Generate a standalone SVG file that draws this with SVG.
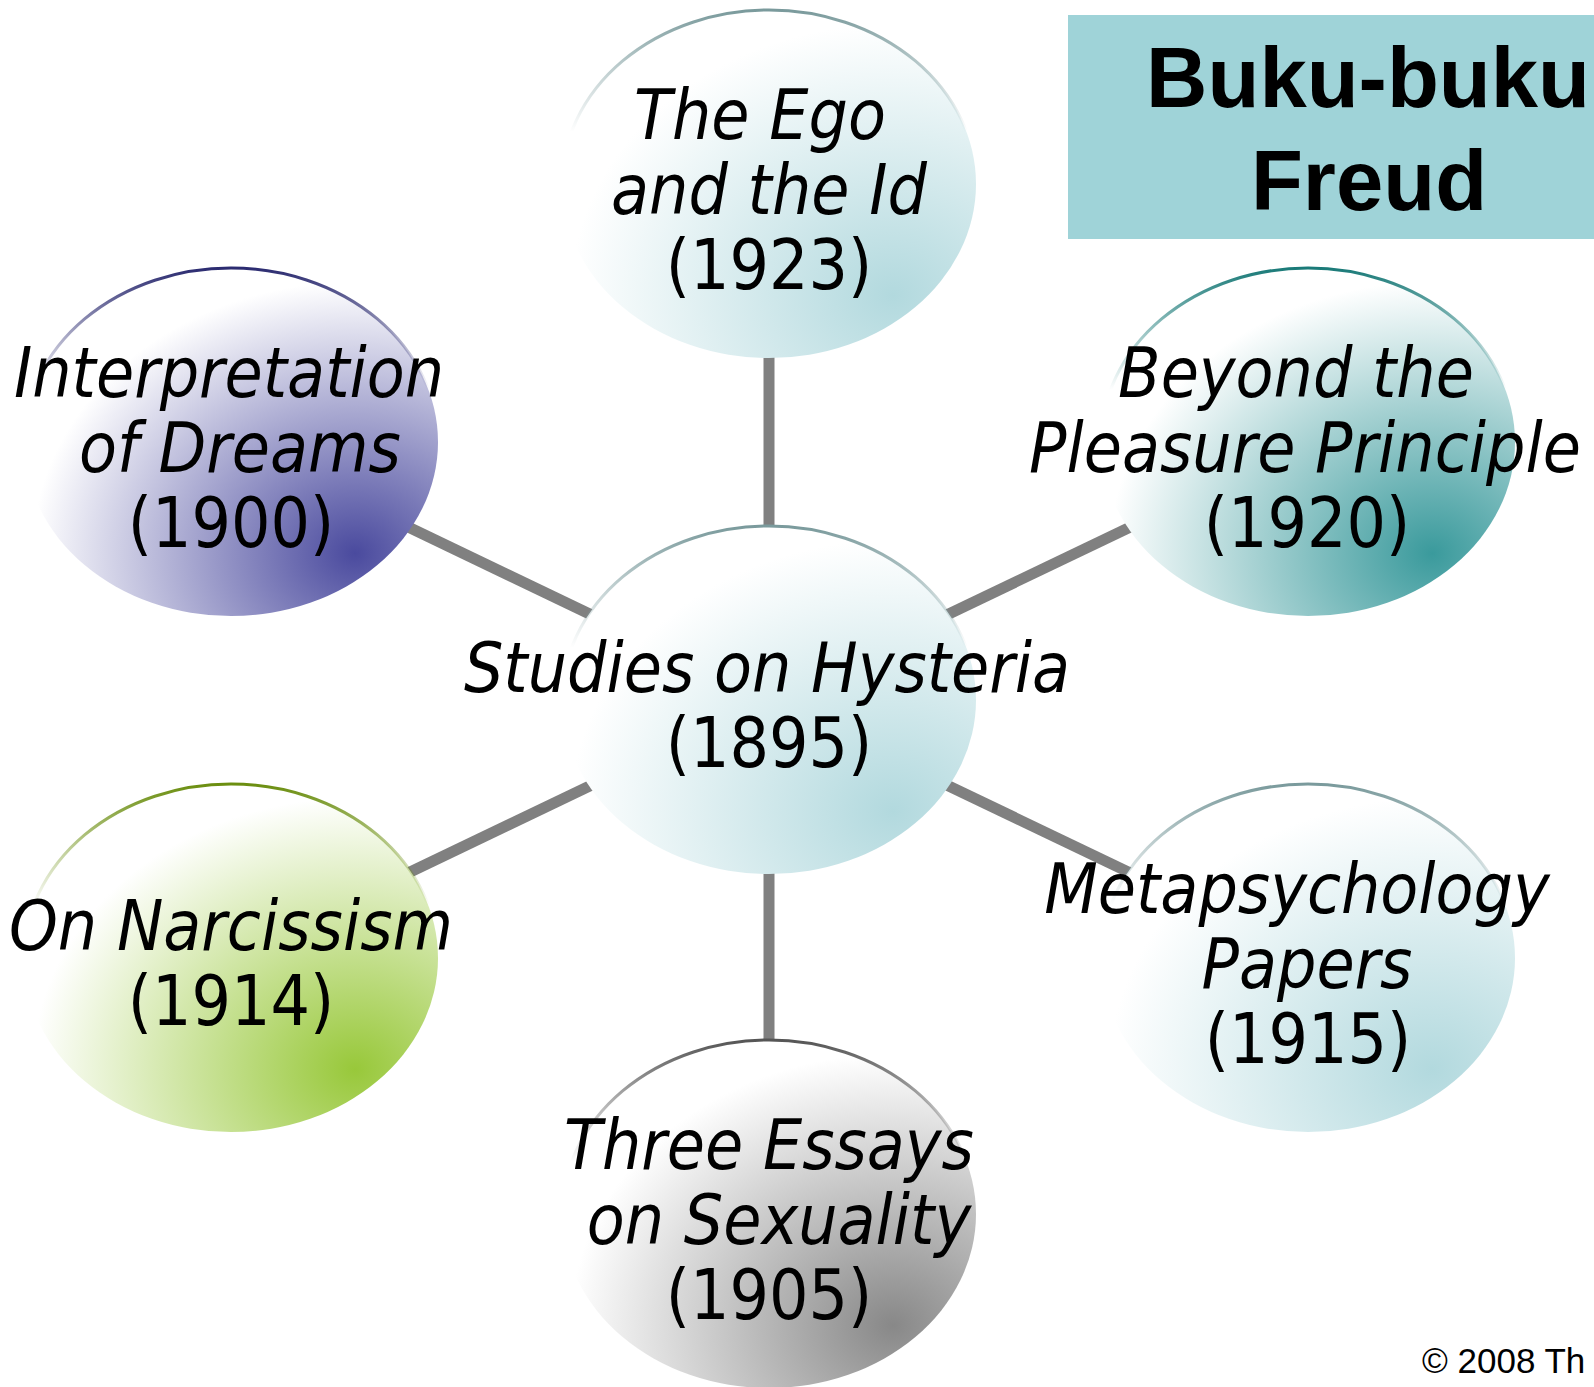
<svg xmlns="http://www.w3.org/2000/svg" width="1594" height="1387" viewBox="0 0 1594 1387">
<style>
.lbl{font-family:'DejaVu Sans Condensed','DejaVu Sans',sans-serif;font-stretch:condensed;font-style:italic;font-size:69px;fill:#000;text-anchor:middle}
.yr{font-style:normal}
.conn{stroke:#808080;stroke-width:11;fill:none}
.title{font-family:'Liberation Sans',Arial,sans-serif;font-weight:bold;font-size:85px;fill:#000;text-anchor:middle}
.copy{font-family:'Liberation Sans',Arial,sans-serif;font-size:35px;fill:#000}
</style>
<defs>
<radialGradient id="gTeal" cx="0.8" cy="0.82" r="0.78"><stop offset="0" stop-color="#b2d9de"/><stop offset="1" stop-color="#ffffff"/></radialGradient>
<radialGradient id="gBlue" cx="0.8" cy="0.82" r="0.78"><stop offset="0" stop-color="#4a4a9e"/><stop offset="1" stop-color="#ffffff"/></radialGradient>
<radialGradient id="gCyan" cx="0.8" cy="0.82" r="0.78"><stop offset="0" stop-color="#3a9a9c"/><stop offset="1" stop-color="#ffffff"/></radialGradient>
<radialGradient id="gGreen" cx="0.8" cy="0.82" r="0.78"><stop offset="0" stop-color="#98c83a"/><stop offset="1" stop-color="#ffffff"/></radialGradient>
<radialGradient id="gGray" cx="0.8" cy="0.82" r="0.78"><stop offset="0" stop-color="#888888"/><stop offset="1" stop-color="#ffffff"/></radialGradient>
<linearGradient id="sTeal" x1="0" y1="0" x2="0" y2="1"><stop offset="0" stop-color="#7a9a9c"/><stop offset="0.2" stop-color="#7a9a9c" stop-opacity="0.4"/><stop offset="0.35" stop-color="#7a9a9c" stop-opacity="0"/></linearGradient>
<linearGradient id="sBlue" x1="0" y1="0" x2="0" y2="1"><stop offset="0" stop-color="#2b2b70"/><stop offset="0.2" stop-color="#2b2b70" stop-opacity="0.4"/><stop offset="0.35" stop-color="#2b2b70" stop-opacity="0"/></linearGradient>
<linearGradient id="sCyan" x1="0" y1="0" x2="0" y2="1"><stop offset="0" stop-color="#1a7a78"/><stop offset="0.2" stop-color="#1a7a78" stop-opacity="0.4"/><stop offset="0.35" stop-color="#1a7a78" stop-opacity="0"/></linearGradient>
<linearGradient id="sGreen" x1="0" y1="0" x2="0" y2="1"><stop offset="0" stop-color="#6b8e10"/><stop offset="0.2" stop-color="#6b8e10" stop-opacity="0.4"/><stop offset="0.35" stop-color="#6b8e10" stop-opacity="0"/></linearGradient>
<linearGradient id="sGray" x1="0" y1="0" x2="0" y2="1"><stop offset="0" stop-color="#555555"/><stop offset="0.2" stop-color="#555555" stop-opacity="0.4"/><stop offset="0.35" stop-color="#555555" stop-opacity="0"/></linearGradient>
</defs>
<rect x="0" y="0" width="1594" height="1387" fill="#ffffff"/>
<g id="title">
<rect x="1068" y="15" width="526" height="224" fill="#9fd3d8"/>
<text class="title" x="1368" y="107">Buku-buku</text>
<text class="title" x="1369" y="210">Freud</text>
</g>
<g id="connectors">
<line class="conn" x1="769" y1="700" x2="769" y2="184"/>
<line class="conn" x1="769" y1="700" x2="231" y2="442"/>
<line class="conn" x1="769" y1="700" x2="1308" y2="442"/>
<line class="conn" x1="769" y1="700" x2="231" y2="958"/>
<line class="conn" x1="769" y1="700" x2="1308" y2="958"/>
<line class="conn" x1="769" y1="700" x2="769" y2="1214"/>
</g>
<g id="node-ego">
<ellipse cx="769" cy="184" rx="207" ry="174" fill="url(#gTeal)" stroke="url(#sTeal)" stroke-width="3"/>
<text class="lbl" x="760" y="139">The Ego</text>
<text class="lbl" x="769" y="214">and the Id</text>
<text class="lbl yr" x="769" y="289">(1923)</text>
</g>
<g id="node-dreams">
<ellipse cx="231" cy="442" rx="207" ry="174" fill="url(#gBlue)" stroke="url(#sBlue)" stroke-width="3"/>
<text class="lbl" x="229" y="397">Interpretation</text>
<text class="lbl" x="240" y="472">of Dreams</text>
<text class="lbl yr" x="231" y="547">(1900)</text>
</g>
<g id="node-pleasure">
<ellipse cx="1308" cy="442" rx="207" ry="174" fill="url(#gCyan)" stroke="url(#sCyan)" stroke-width="3"/>
<text class="lbl" x="1296" y="397">Beyond the</text>
<text class="lbl" x="1305" y="472">Pleasure Principle</text>
<text class="lbl yr" x="1307" y="547">(1920)</text>
</g>
<g id="node-hysteria">
<ellipse cx="769" cy="700" rx="207" ry="174" fill="url(#gTeal)" stroke="url(#sTeal)" stroke-width="3"/>
<text class="lbl" x="767" y="692">Studies on Hysteria</text>
<text class="lbl yr" x="769" y="767">(1895)</text>
</g>
<g id="node-narcissism">
<ellipse cx="231" cy="958" rx="207" ry="174" fill="url(#gGreen)" stroke="url(#sGreen)" stroke-width="3"/>
<text class="lbl" x="231" y="950">On Narcissism</text>
<text class="lbl yr" x="231" y="1025">(1914)</text>
</g>
<g id="node-metapsychology">
<ellipse cx="1308" cy="958" rx="207" ry="174" fill="url(#gTeal)" stroke="url(#sTeal)" stroke-width="3"/>
<text class="lbl" x="1297" y="913">Metapsychology</text>
<text class="lbl" x="1307" y="988">Papers</text>
<text class="lbl yr" x="1308" y="1063">(1915)</text>
</g>
<g id="node-sexuality">
<ellipse cx="769" cy="1214" rx="207" ry="174" fill="url(#gGray)" stroke="url(#sGray)" stroke-width="3"/>
<text class="lbl" x="769" y="1169">Three Essays</text>
<text class="lbl" x="779" y="1244">on Sexuality</text>
<text class="lbl yr" x="769" y="1319">(1905)</text>
</g>
<text class="copy" x="1422" y="1373">© 2008 Th</text>
</svg>
